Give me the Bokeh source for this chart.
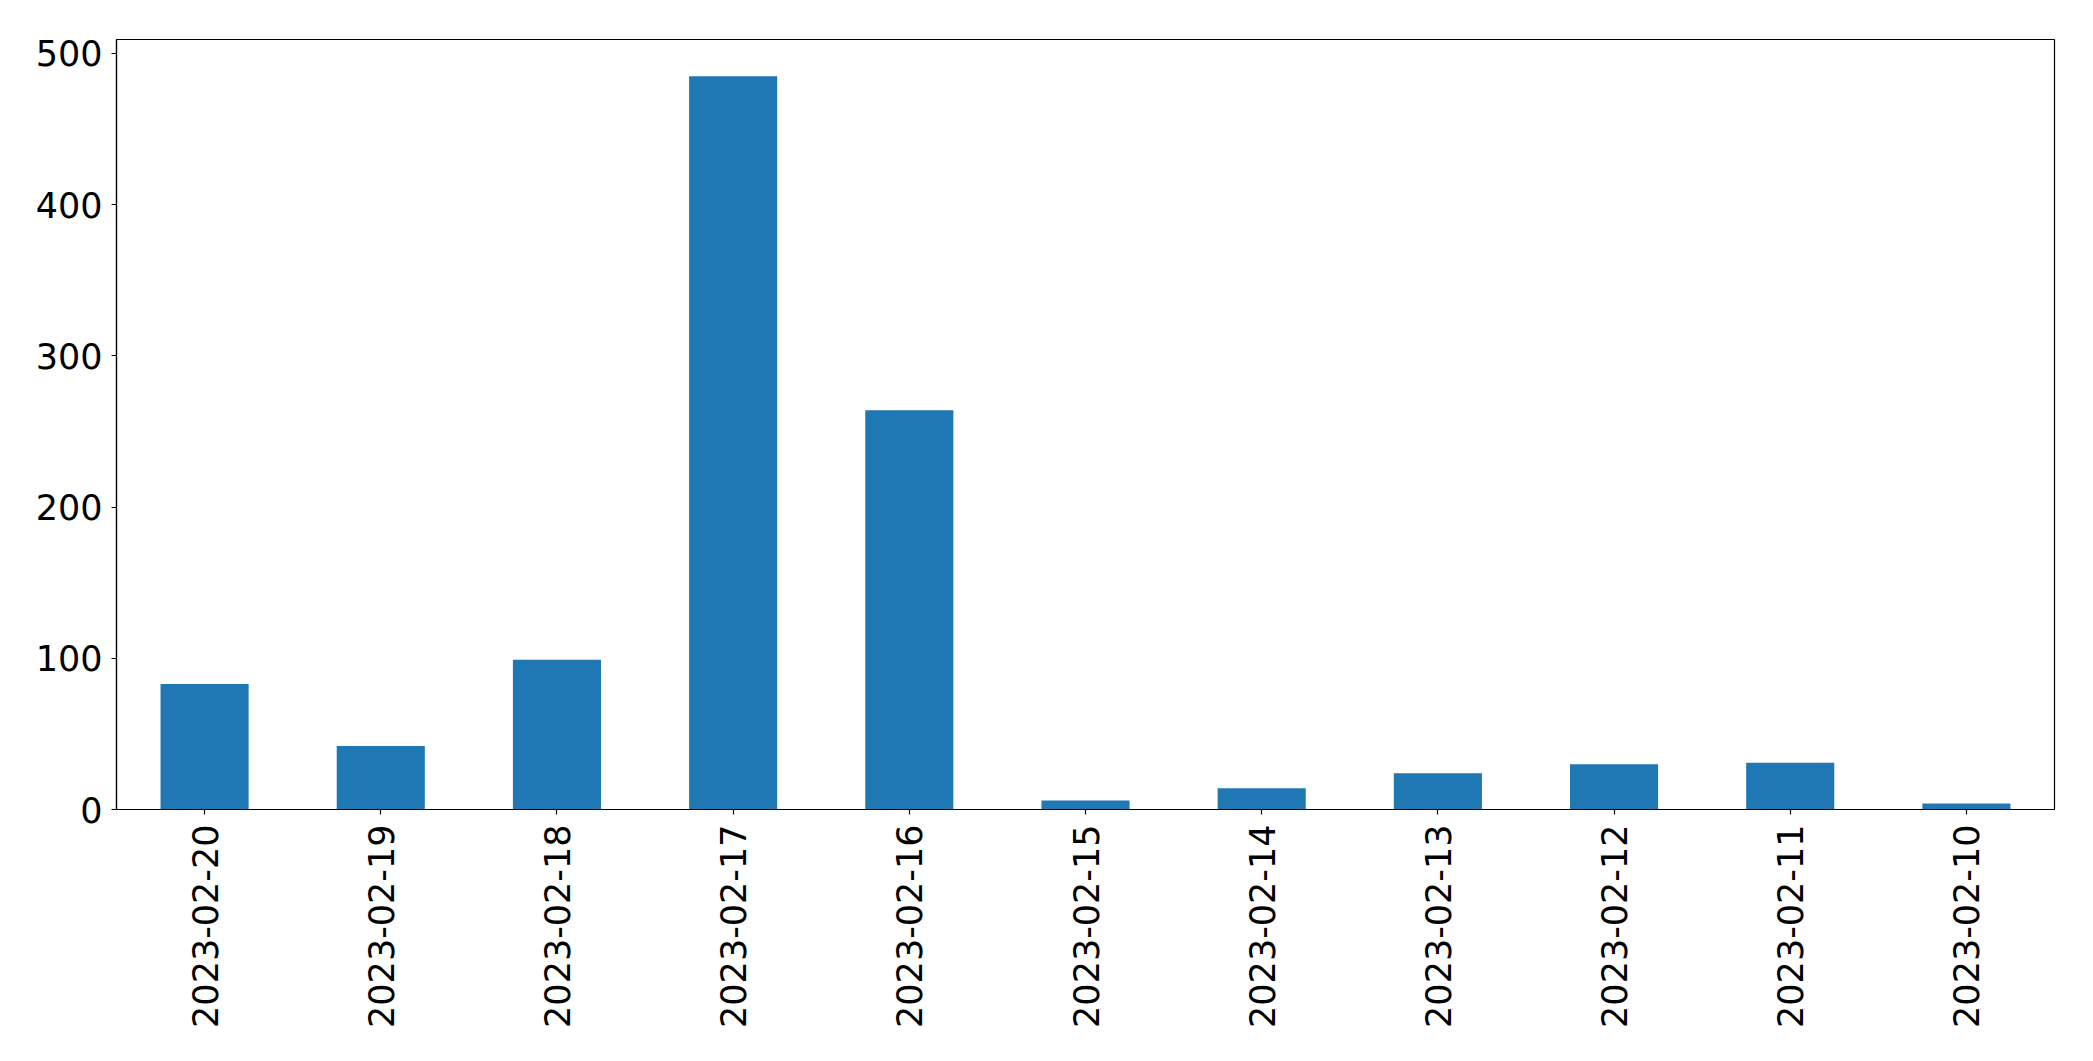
import math
from bokeh.plotting import figure
from bokeh.models import Range1d, FactorRange, FixedTicker
from bokeh.embed import file_html
from bokeh.resources import INLINE

dates = ["2023-02-20", "2023-02-19", "2023-02-18", "2023-02-17", "2023-02-16",
         "2023-02-15", "2023-02-14", "2023-02-13", "2023-02-12", "2023-02-11",
         "2023-02-10"]
counts = [83, 42, 99, 485, 264, 6, 14, 24, 30, 31, 4]
y_ticks = [0, 100, 200, 300, 400, 500]

FONT = "DejaVu Sans"

p = figure(width=2077, height=1045, x_range=FactorRange(*dates, range_padding=0),
           y_range=Range1d(0, 509.25), output_backend="svg", toolbar_location=None,
           min_border_left=116, min_border_right=23, min_border_top=39,
           min_border_bottom=236)

p.vbar(x=dates, top=counts, width=0.5, color="#1f77b4", line_color=None)

p.xgrid.visible = False
p.ygrid.visible = False
p.outline_line_color = "black"
p.outline_line_width = 1.2
p.outline_line_alpha = 1.0

for ax in (p.xaxis[0], p.yaxis[0]):
    ax.axis_line_color = "black"
    ax.axis_line_width = 1.2
    ax.major_tick_line_color = "black"
    ax.major_tick_line_width = 1.2
    ax.major_tick_out = 5
    ax.major_tick_in = 0
    ax.minor_tick_line_color = None
    ax.major_label_text_font = FONT
    ax.major_label_text_font_size = "35px"
    ax.major_label_text_color = "black"

p.yaxis[0].ticker = FixedTicker(ticks=y_ticks)
p.yaxis[0].major_label_standoff = 9
p.xaxis[0].major_label_orientation = math.pi / 2
p.xaxis[0].major_label_standoff = 10

open("out.html", "w").write(file_html(p, INLINE))
